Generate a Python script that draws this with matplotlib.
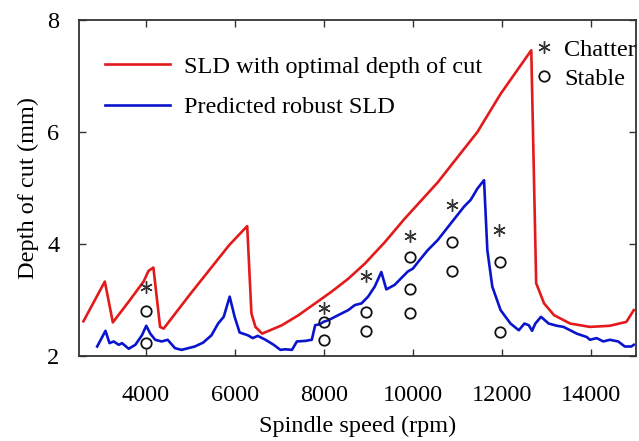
import matplotlib
matplotlib.use("Agg")
from matplotlib import pyplot as plt
from matplotlib.lines import Line2D

plt.rcParams['font.family'] = ['Liberation Serif', 'DejaVu Serif']

# SLD with optimal depth of cut
red_rpm = [2600, 3080, 3260, 3615, 3950, 4060, 4170, 4320, 4400, 5010, 5870, 6275,
           6370, 6460, 6610, 7055, 7427, 7800, 8170, 8543, 8915, 9360, 9806, 10550,
           10846, 11441, 11961, 12650, 12760, 12937, 13160, 13522, 13968, 14413,
           14785, 14950]
red_depth = [2.62, 3.33, 2.60, 2.97, 3.33, 3.52, 3.58, 2.52, 2.49, 3.12, 3.98, 4.32,
             2.76, 2.52, 2.40, 2.55, 2.73, 2.94, 3.15, 3.38, 3.65, 4.03, 4.45, 5.10,
             5.40, 6.00, 6.68, 7.46, 3.30, 2.94, 2.73, 2.58, 2.52, 2.54,
             2.61, 2.82]

# predicted robust SLD
blue_rpm = [2908, 3095, 3185, 3280, 3392, 3466, 3615, 3765, 3912, 4010, 4100, 4210,
            4357, 4490, 4655, 4803, 4952, 5100, 5287, 5473, 5622, 5748, 5882, 5993,
            6105, 6290, 6400, 6513, 6685, 6870, 7020, 7130, 7280, 7390, 7577, 7725,
            7800, 7912, 7985, 8097, 8245, 8393, 8543, 8691, 8840, 8988, 9137, 9285,
            9397, 9584, 9731, 9880, 9992, 10141, 10326, 10550, 10698, 10846, 10995,
            11144, 11292, 11441, 11590, 11664, 11775, 11961, 12184, 12370, 12496,
            12594, 12667, 12741, 12868, 13040, 13225, 13374, 13522, 13670, 13893,
            13968, 14117, 14265, 14413, 14600, 14748, 14897, 14950]
blue_depth = [2.17, 2.45, 2.23, 2.26, 2.20, 2.23, 2.13, 2.20, 2.37, 2.54, 2.40, 2.29,
              2.26, 2.29, 2.14, 2.11, 2.14, 2.17, 2.24, 2.37, 2.58, 2.70, 3.06, 2.70,
              2.42, 2.37, 2.32, 2.36, 2.29, 2.20, 2.11, 2.12, 2.11, 2.26, 2.27, 2.29,
              2.55, 2.57, 2.61, 2.64, 2.70, 2.76, 2.82, 2.91, 2.94, 3.06, 3.24, 3.50,
              3.19, 3.27, 3.39, 3.51, 3.56, 3.71, 3.89, 4.07, 4.22, 4.37, 4.52,
              4.67, 4.79, 4.99, 5.14, 3.89, 3.24, 2.82, 2.58, 2.46, 2.58,
              2.55, 2.45, 2.58, 2.70, 2.58, 2.54, 2.52, 2.46, 2.40, 2.34,
              2.29, 2.32, 2.26, 2.29, 2.26, 2.17, 2.17, 2.20]

# experiments
chatter_rpm = [4000, 8000, 8950, 9920, 10870, 11930]
chatter_depth = [3.24, 2.85, 3.42, 4.14, 4.70, 4.25]
stable_rpm = [4000, 4000, 8000, 8000, 8950, 8950, 9920, 9920, 9920, 10870, 10870, 11950, 11950]
stable_depth = [2.81, 2.24, 2.61, 2.29, 2.79, 2.45, 3.77, 3.19, 2.76, 4.04, 3.51, 3.68, 2.43]

fs = 17.5

fig = plt.figure(figsize=(6.39, 4.41), dpi=100)
ax = fig.add_axes([0.1236, 0.1927, 0.8717, 0.7619])

l1, = ax.plot(red_rpm, red_depth, color='#e31a1c', lw=1.9)
l2, = ax.plot(blue_rpm, blue_depth, color='#0a14cc', lw=1.9)
ax.plot(chatter_rpm, chatter_depth, ls='none', marker=(6, 2, 0), ms=9, mew=1.0,
        color='#333333')
ax.plot(stable_rpm, stable_depth, ls='none', marker='o', ms=7.5, mfc='none',
        mec='#111111', mew=1.3)

ax.set_xlim(2500, 15000)
ax.set_ylim(2, 8)
ax.set_xticks([4000, 6000, 8000, 10000, 12000, 14000])
ax.set_yticks([2, 4, 6, 8])
ax.tick_params(direction='in', top=True, right=True, length=5, width=1,
               labelsize=fs, color='#333333')
ax.tick_params(axis='x', pad=21)
ax.tick_params(axis='y', pad=14)
for s in ax.spines.values():
    s.set_linewidth(1.3)
    s.set_color('#333333')

ax.set_xlabel("Spindle speed (rpm)", fontsize=fs, labelpad=7)
ax.set_ylabel("Depth of cut (mm)", fontsize=fs, labelpad=6)

leg1 = ax.legend([l1, l2], ["SLD with optimal depth of cut", "Predicted robust SLD"],
                 loc='upper left', bbox_to_anchor=(0.047, 0.893), frameon=False,
                 fontsize=fs, handlelength=2.65, handletextpad=0.6, labelspacing=0.75,
                 borderpad=0, borderaxespad=0)
ax.add_artist(leg1)

h_ch = Line2D([], [], ls='none', marker=(6, 2, 0), ms=9, mew=1.0, color='#333333')
h_st = Line2D([], [], ls='none', marker='o', ms=7.5, mfc='none', mec='#111111', mew=1.3)
ax.legend([h_ch, h_st], ["Chatter", "Stable"], loc='upper right',
          bbox_to_anchor=(1.0, 0.945), frameon=False, fontsize=fs,
          handlelength=0.8, handletextpad=0.45, labelspacing=0.3,
          borderpad=0, borderaxespad=0)

fig.savefig("out.png", dpi=100)
